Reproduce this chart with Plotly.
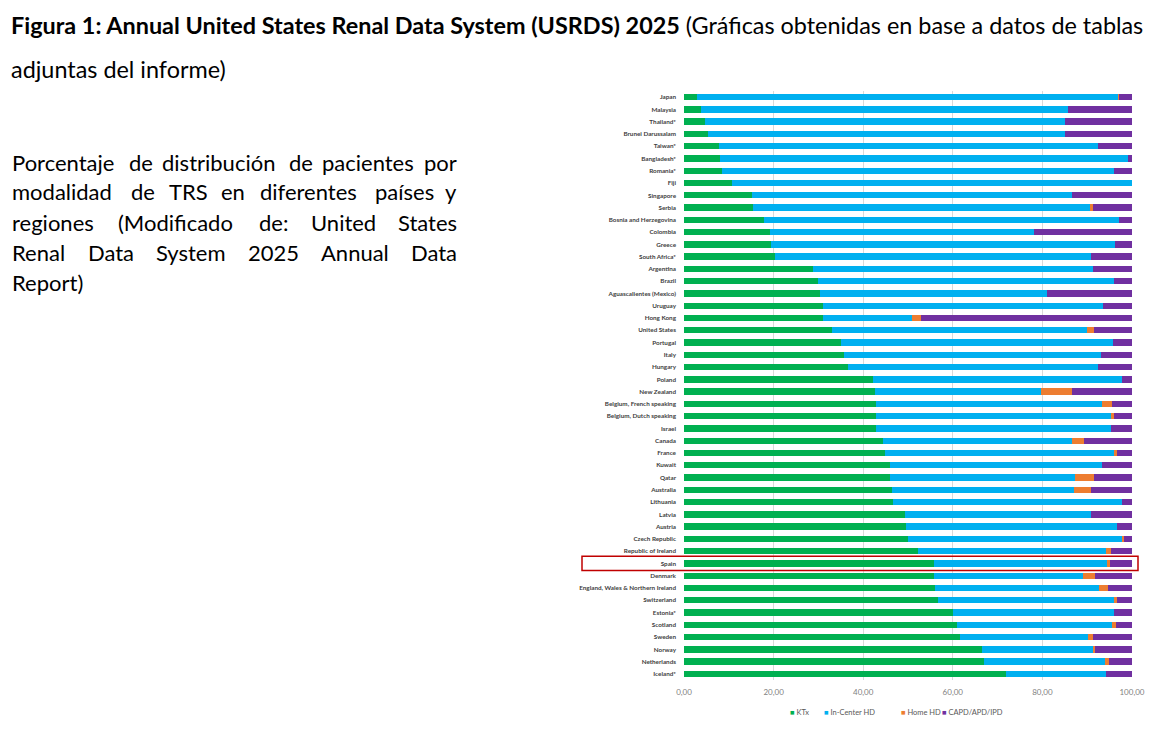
import plotly.graph_objects as go

countries = ["Japan", "Malaysia", "Thailand*", "Brunei Darussalam", "Taiwan*", "Bangladesh*", "Romania*", "Fiji",
             "Singapore", "Serbia", "Bosnia and Herzegovina", "Colombia", "Greece", "South Africa*", "Argentina",
             "Brazil", "Aguascalientes (Mexico)", "Uruguay", "Hong Kong", "United States", "Portugal", "Italy",
             "Hungary", "Poland", "New Zealand", "Belgium, French speaking", "Belgium, Dutch speaking", "Israel",
             "Canada", "France", "Kuwait", "Qatar", "Australia", "Lithuania", "Latvia", "Austria", "Czech Republic",
             "Republic of Ireland", "Spain", "Denmark", "England, Wales & Northern Ireland", "Switzerland",
             "Estonia*", "Scotland", "Sweden", "Norway", "Netherlands", "Iceland*"]

ktx = [3.0, 3.8, 4.6, 5.3, 7.8, 8.1, 8.4, 10.8, 15.1, 15.3, 17.8, 19.2, 19.4, 20.2, 28.8, 30.0, 30.4, 31.0, 31.0,
       33.1, 35.1, 35.8, 36.5, 42.1, 42.6, 42.9, 42.9, 42.9, 44.5, 44.8, 45.9, 45.9, 46.5, 46.6, 49.3, 49.6, 50.1,
       52.3, 55.7, 55.9, 56.0, 56.7, 60.0, 61.0, 61.5, 66.6, 67.0, 71.9]
icHD = [94.0, 81.9, 80.4, 79.7, 84.7, 90.9, 87.6, 89.2, 71.4, 75.3, 79.4, 59.0, 76.9, 70.6, 62.5, 65.9, 50.6, 62.5,
        19.9, 56.8, 60.7, 57.3, 55.9, 55.6, 37.1, 50.5, 52.4, 52.3, 42.2, 51.1, 47.5, 41.3, 40.6, 51.2, 41.5, 47.0,
        47.7, 42.0, 38.8, 33.2, 36.7, 39.3, 36.0, 34.6, 28.7, 24.6, 26.9, 22.3]
homeHD = [0.1, 0.0, 0.0, 0.0, 0.0, 0.0, 0.0, 0.0, 0.0, 0.7, 0.0, 0.0, 0.0, 0.0, 0.0, 0.0, 0.0, 0.0, 1.9, 1.7, 0.0,
          0.0, 0.0, 0.0, 6.9, 2.2, 0.7, 0.0, 2.5, 0.8, 0.0, 4.3, 3.7, 0.0, 0.0, 0.0, 0.4, 1.0, 0.6, 2.7, 1.9, 0.7,
          0.0, 0.9, 1.1, 0.6, 1.0, 0.0]
pd_ = [2.9, 14.3, 15.0, 15.0, 7.5, 1.0, 4.0, 0.0, 13.5, 8.7, 2.8, 21.8, 3.7, 9.2, 8.7, 4.1, 19.0, 6.5, 47.2, 8.4,
       4.2, 6.9, 7.6, 2.3, 13.4, 4.4, 4.0, 4.8, 10.8, 3.3, 6.6, 8.5, 9.2, 2.2, 9.2, 3.4, 1.8, 4.7, 4.9, 8.2, 5.4,
       3.3, 4.0, 3.5, 8.7, 8.2, 5.1, 5.8]

series_names = ["KTx", "In-Center HD", "Home HD", "CAPD/APD/IPD"]
series_values = [ktx, icHD, homeHD, pd_]
series_colors = ["#00B050", "#00B0F0", "#ED7D31", "#7030A0"]

x_tickvals = [0, 20, 40, 60, 80, 100]
x_ticktext = ["0,00", "20,00", "40,00", "60,00", "80,00", "100,00"]

title_bold = "Figura 1: Annual United States Renal Data System (USRDS) 2025"
title_rest = " (Gráficas obtenidas en base a datos de tablas"
title_line2 = "adjuntas del informe)"
para_lines = ["Porcentaje de distribución de pacientes por",
              "modalidad de TRS en diferentes países y",
              "regiones (Modificado de: United States",
              "Renal Data System 2025 Annual Data",
              "Report)"]
highlight = "Spain"

W, H = 1155, 729
ML, MR, MT, MB = 684, 23, 91, 49
PW = W - ML - MR
PH = H - MT - MB


def px(x):
    return (x - ML) / PW


def py(y):
    return 1 - (y - MT) / PH


# approximate Lato advance widths (em units) used only to justify the paragraph text
CW = {"a": .51, "b": .56, "c": .46, "d": .56, "e": .53, "f": .32, "g": .50, "h": .56, "i": .24, "j": .24,
      "k": .50, "l": .24, "m": .85, "n": .56, "o": .56, "p": .56, "q": .56, "r": .37, "s": .42, "t": .35,
      "u": .56, "v": .50, "w": .77, "x": .49, "y": .50, "z": .45, "ó": .56, "í": .24,
      "A": .68, "D": .73, "M": .88, "P": .59, "R": .62, "S": .51, "T": .57, "U": .71,
      "(": .30, ")": .30, ":": .25, "0": .58, "2": .58, "5": .58}


def word_w(w, size):
    return sum(CW.get(c, .55) for c in w) * size * 1.05


fig = go.Figure()
for name, vals, col in zip(series_names, series_values, series_colors):
    fig.add_trace(go.Bar(y=countries, x=vals, name=name, orientation="h",
                         marker=dict(color=col, line=dict(width=0))))

fig.update_layout(
    width=W, height=H, barmode="stack", bargap=0.48,
    margin=dict(l=ML, r=MR, t=MT, b=MB, autoexpand=False),
    paper_bgcolor="white", plot_bgcolor="white",
    separators=",.",
    font=dict(family="Lato", color="#595959"),
    xaxis=dict(range=[0, 100], tickvals=x_tickvals, ticktext=x_ticktext, showgrid=True,
               gridcolor="#D9D9D9", gridwidth=1, zeroline=False, showline=False, ticks="",
               tickfont=dict(size=8, color="#7F7F7F"), ticklabelstandoff=6, fixedrange=True),
    yaxis=dict(autorange="reversed", ticks="", showline=False, showgrid=False,
               tickfont=dict(size=6.3, color="#404040", weight="bold"), ticklabelstandoff=7),
    showlegend=False,
)

idx = countries.index(highlight)
fig.add_shape(type="rect", xref="paper", yref="y", x0=px(582), x1=px(1138), y0=idx - 0.58, y1=idx + 0.58,
              line=dict(color="#C00000", width=1.5), fillcolor="rgba(0,0,0,0)", layer="above")

# legend drawn as text items
leg_x = [788, 822, 899, 940]
for name, col, lx in zip(series_names, series_colors, leg_x):
    fig.add_annotation(xref="paper", yref="paper", x=px(lx), y=py(712), xanchor="left", yanchor="middle",
                       text="<span style='color:%s'>■</span> %s" % (col, name), showarrow=False,
                       font=dict(family="Lato", size=7.5, color="#595959"))

fig.add_annotation(xref="paper", yref="paper", x=px(9), y=py(25), xanchor="left", yanchor="middle",
                   text="<b>" + title_bold + "</b>" + title_rest, showarrow=False,
                   font=dict(family="Lato", size=23.4, color="#000000"))
fig.add_annotation(xref="paper", yref="paper", x=px(9), y=py(69), xanchor="left", yanchor="middle",
                   text=title_line2, showarrow=False, font=dict(family="Lato", size=23.4, color="#000000"))

PS = 22
LEFT, RIGHT = 10, 459
for i, line in enumerate(para_lines):
    yy = py(162 + 30 * i)
    words = line.split(" ")
    if i == len(para_lines) - 1 or len(words) == 1:
        fig.add_annotation(xref="paper", yref="paper", x=px(LEFT), y=yy, xanchor="left", yanchor="middle",
                           text=line, showarrow=False, font=dict(family="Lato", size=PS, color="#000000"))
        continue
    widths = [word_w(w, PS) for w in words]
    gap = (RIGHT - LEFT - sum(widths)) / (len(words) - 1)
    xpos = LEFT
    for j, (w, ww) in enumerate(zip(words, widths)):
        if j == len(words) - 1:
            fig.add_annotation(xref="paper", yref="paper", x=px(RIGHT), y=yy, xanchor="right",
                               yanchor="middle", text=w, showarrow=False,
                               font=dict(family="Lato", size=PS, color="#000000"))
        else:
            fig.add_annotation(xref="paper", yref="paper", x=px(xpos), y=yy, xanchor="left",
                               yanchor="middle", text=w, showarrow=False,
                               font=dict(family="Lato", size=PS, color="#000000"))
        xpos += ww + gap

fig.write_html("out.html", config={"displayModeBar": False},
               post_script="document.body.style.margin='0px';")
